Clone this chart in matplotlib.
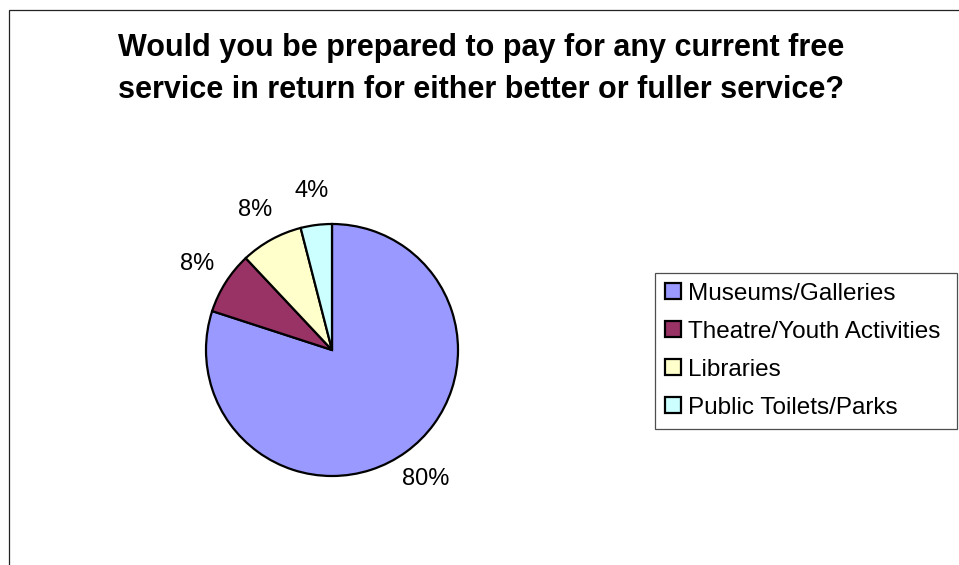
import matplotlib.pyplot as plt
from matplotlib.patches import Rectangle, Patch

plt.rcParams["font.family"] = ["Liberation Sans", "DejaVu Sans"]

# survey answers, share of respondents (%)
categories = ["Museums/Galleries", "Theatre/Youth Activities", "Libraries",
              "Public Toilets/Parks"]
shares = [80, 8, 8, 4]
colors = ["#9999FF", "#993366", "#FFFFCC", "#CCFFFF"]

W, H = 959, 565
fig = plt.figure(figsize=(W / 100, H / 100), dpi=100)

# outer chart-area border (runs off the right and bottom edges)
fig.patches.append(Rectangle((9 / W, -0.2), 1.2, 1.2 - 10 / H,
                             transform=fig.transFigure, fill=False,
                             edgecolor="#222222", linewidth=0.9))

fig.text(481 / W, 1 - 69 / H,
         "Would you be prepared to pay for any current free\n"
         "service in return for either better or fuller service?",
         ha="center", va="center", fontsize=22, fontweight="bold",
         linespacing=1.52)

# pie: centre at (332, 350) px, radius 126 px
ax = fig.add_axes([(332 - 189) / W, (H - 350 - 189) / H, 378 / W, 378 / H])
wedges, _, pcts = ax.pie(shares, colors=colors, startangle=90,
                         counterclock=False, autopct="%.0f%%",
                         pctdistance=1.27,
                         wedgeprops=dict(edgecolor="black", linewidth=1.6),
                         textprops=dict(fontsize=17))
ax.set_xlim(-1.5, 1.5)
ax.set_ylim(-1.5, 1.5)
ax.set_aspect("equal")

handles = [Patch(facecolor=c, edgecolor="black", linewidth=1.6) for c in colors]
x0, y0, x1, y1 = 655, 273, 957, 425
leg = fig.legend(handles, categories, loc="upper left", mode="expand",
                 bbox_to_anchor=(x0 / W, 1 - y1 / H, (x1 - x0) / W, (y1 - y0) / H),
                 fontsize=17.5, frameon=True, fancybox=False, edgecolor="#222222",
                 handlelength=0.66, handleheight=0.63, handletextpad=0.3,
                 labelspacing=0.66, borderpad=0.4, borderaxespad=0)
leg.get_frame().set_linewidth(0.9)

fig.savefig("out.png", dpi=100, facecolor="white")
